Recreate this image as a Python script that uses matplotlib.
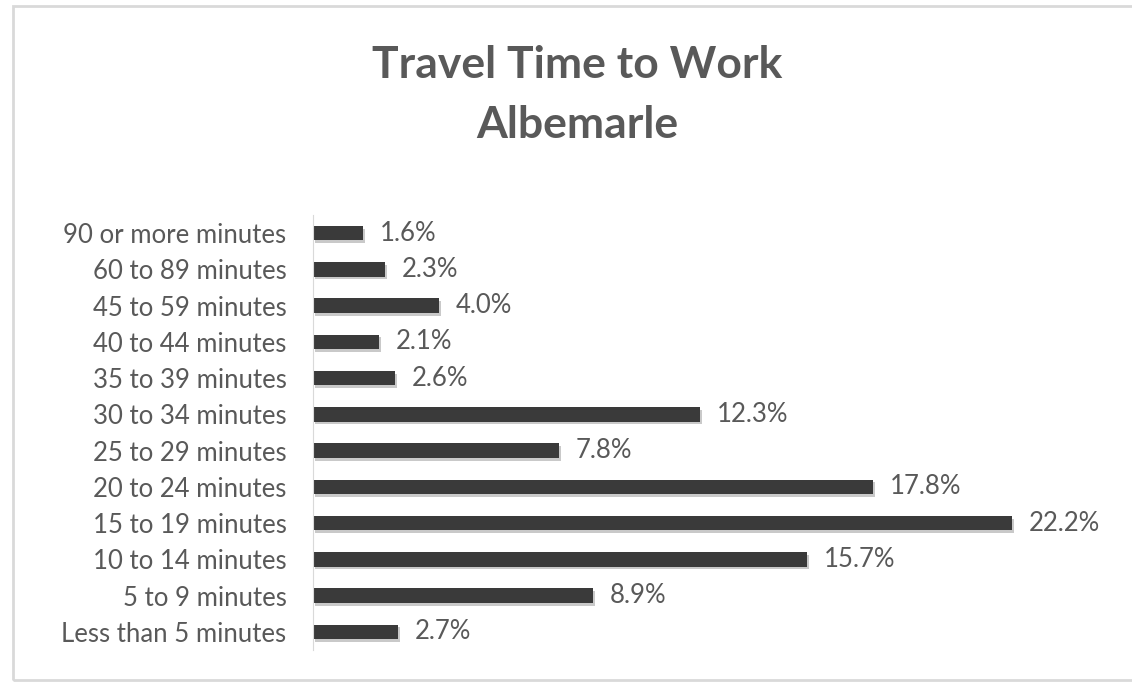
import matplotlib
matplotlib.use("Agg")
import matplotlib.pyplot as plt
import matplotlib.patheffects as pe
from matplotlib.patches import Rectangle

# travel time categories, bottom to top
categories = ["Less than 5 minutes", "5 to 9 minutes", "10 to 14 minutes",
              "15 to 19 minutes", "20 to 24 minutes", "25 to 29 minutes",
              "30 to 34 minutes", "35 to 39 minutes", "40 to 44 minutes",
              "45 to 59 minutes", "60 to 89 minutes", "90 or more minutes"]
shares = [2.7, 8.9, 15.7, 22.2, 17.8, 7.8, 12.3, 2.6, 2.1, 4.0, 2.3, 1.6]

plt.rcParams['font.family'] = ['Lato', 'DejaVu Sans']
grey = "#595959"

fig = plt.figure(figsize=(11.32, 6.82), dpi=100)
# chart frame
fig.patches.append(Rectangle((13 / 1132, 2 / 682), 1.2, 674 / 682,
                             transform=fig.transFigure, fill=False,
                             edgecolor="#d9d9d9", linewidth=2))

ax = fig.add_axes([313 / 1132, 32 / 682, 787 / 1132, 435 / 682])
bars = ax.barh(range(len(categories)), shares, height=0.4, color="#3a3a3a",
               path_effects=[pe.SimplePatchShadow(offset=(1.5, -2), shadow_rgbFace="#888888", alpha=0.45),
                             pe.Normal()])
for b, v in zip(bars, shares):
    ax.annotate(f"{v:.1f}%", (b.get_width(), b.get_y() + b.get_height() / 2),
                xytext=(12, 0), textcoords="offset points", va="center", ha="left",
                fontsize=18.5, color=grey)

ax.set_xlim(0, 25)
ax.set_ylim(-0.5, len(categories) - 0.5)
ax.set_yticks(range(len(categories)))
ax.set_yticklabels(categories, fontsize=18.5, color=grey)
ax.tick_params(axis="y", length=0, pad=19)
ax.set_xticks([])
for s in ["top", "right", "bottom"]:
    ax.spines[s].set_visible(False)
ax.spines["left"].set_color("#d9d9d9")

fig.text(577 / 1132, 1 - 65 / 682, "Travel Time to Work", ha="center", va="center",
         fontsize=32, fontweight="bold", color=grey)
fig.text(577 / 1132, 1 - 125 / 682, "Albemarle", ha="center", va="center",
         fontsize=32, fontweight="bold", color=grey)

fig.savefig("out.png", dpi=100, facecolor="white")
